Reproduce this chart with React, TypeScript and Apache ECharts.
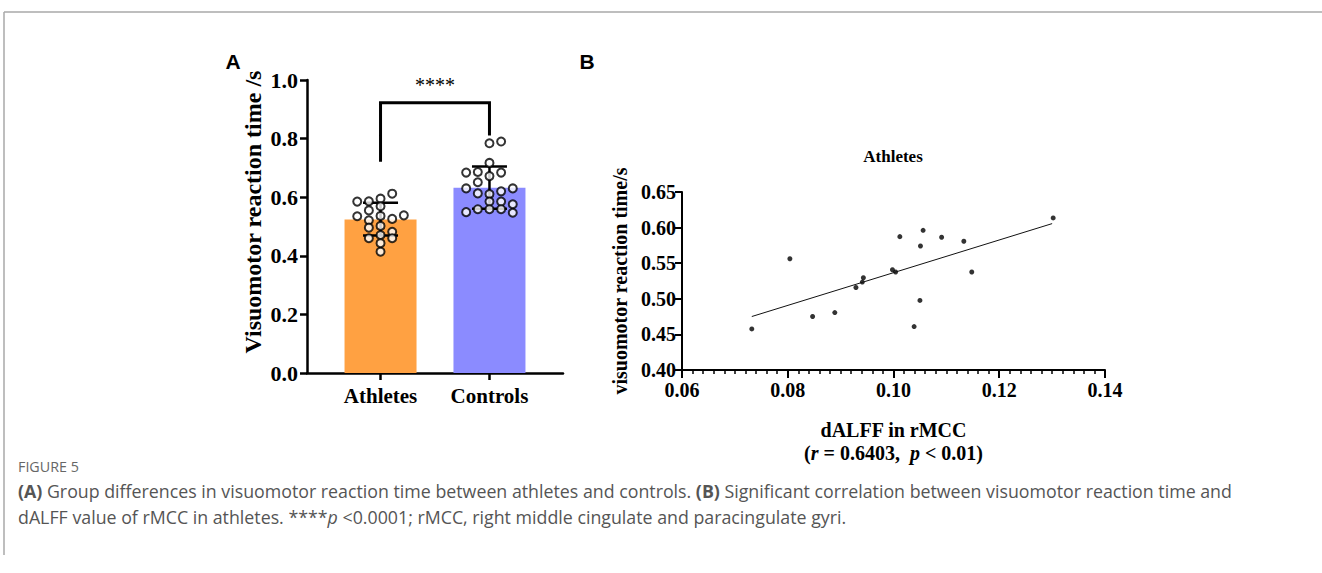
import React, { useEffect, useRef } from "react";
import * as echarts from "echarts";

// ---------- Panel A data ----------
const groups = ["Athletes", "Controls"];
const groupMeans = [0.524, 0.632];
const groupSdLow = [0.469, 0.561];
const groupSdHigh = [0.581, 0.705];
const barColors = ["#FFA142", "#8B8BFF"];

const athleteValues = [0.585, 0.535, 0.586, 0.555, 0.521, 0.496, 0.46, 0.595, 0.569, 0.536, 0.502, 0.471, 0.443, 0.414, 0.612, 0.526, 0.482, 0.46, 0.538];
const athleteSlots = [-2, -2, -1, -1, -1, -1, -1, 0, 0, 0, 0, 0, 0, 0, 1, 1, 1, 1, 2];
const controlValues = [0.784, 0.717, 0.672, 0.611, 0.585, 0.559, 0.79, 0.684, 0.62, 0.585, 0.559, 0.686, 0.651, 0.613, 0.559, 0.684, 0.63, 0.549, 0.63, 0.576, 0.547];
const controlSlots = [0, 0, 0, 0, 0, 0, 1, 1, 1, 1, 1, -1, -1, -1, -1, -2, -2, -2, 2, 2, 2];

const bracketFeet = [0.721, 0.811];
const bracketTop = 0.922;
const sigLabel = "****";

// ---------- Panel B data ----------
const dalff = [0.0732, 0.0804, 0.0847, 0.0889, 0.0929, 0.0941, 0.0943, 0.0998, 0.1004, 0.1012, 0.1039, 0.105, 0.1051, 0.1056, 0.1091, 0.1133, 0.1148, 0.1302];
const reactionTime = [0.4577, 0.5563, 0.4751, 0.4807, 0.5159, 0.5235, 0.5296, 0.5408, 0.5376, 0.5873, 0.461, 0.4977, 0.5742, 0.5962, 0.5864, 0.5808, 0.5376, 0.6136];
const fitX = [0.0732, 0.13];
const fitY = [0.4751, 0.6056];

const SERIF = "'Liberation Serif', 'Times New Roman', serif";
const SANS = "'Liberation Sans', Arial, sans-serif";
const CAP = "'Open Sans', 'Noto Sans', sans-serif";
const SLOT = 0.107;

export default function App() {
  const ref = useRef<HTMLDivElement>(null);
  useEffect(() => {
    const chart = echarts.init(ref.current!, null, { renderer: "svg" });
    const blackLine = (w: number) => ({ lineStyle: { color: "#000", width: w } });
    const option: any = {
      animation: false,
      backgroundColor: "#fff",
      grid: [
        { left: 307, top: 80, width: 256, height: 293 },
        { left: 682, top: 192, width: 423, height: 178 },
      ],
      xAxis: [
        {
          gridIndex: 0,
          type: "value",
          min: -0.675,
          max: 1.675,
          splitLine: { show: false },
          axisLine: { show: true, onZero: false, ...blackLine(2.5) },
          axisTick: { show: true, customValues: [0, 1], length: 7, ...blackLine(2.5) },
          axisLabel: {
            customValues: [0, 1],
            formatter: (v: number) => groups[Math.round(v)],
            fontFamily: SERIF,
            fontWeight: "bold",
            fontSize: 21,
            color: "#000",
            margin: 12,
          },
        },
        {
          gridIndex: 1,
          type: "value",
          min: 0.06,
          max: 0.14,
          interval: 0.02,
          splitLine: { show: false },
          axisLine: { show: true, onZero: false, ...blackLine(2) },
          axisTick: { show: true, length: 8, ...blackLine(2) },
          minorTick: { show: true, splitNumber: 10, length: 4, ...blackLine(1.5) },
          axisLabel: {
            formatter: (v: number) => v.toFixed(2),
            fontFamily: SERIF,
            fontWeight: "bold",
            fontSize: 20,
            color: "#000",
            margin: 10,
          },
          name: "{a|dALFF in rMCC}\n{b|(}{i|r}{b| = 0.6403,  }{i|p}{b| < 0.01)}",
          nameLocation: "middle",
          nameGap: 48,
          nameTextStyle: {
            color: "#000",
            rich: {
              a: { fontFamily: SERIF, fontWeight: "bold", fontSize: 20, lineHeight: 23, color: "#000" },
              b: { fontFamily: SERIF, fontWeight: "bold", fontSize: 20, lineHeight: 23, color: "#000" },
              i: { fontFamily: SERIF, fontWeight: "bold", fontStyle: "italic", fontSize: 20, lineHeight: 23, color: "#000" },
            },
          },
        },
      ],
      yAxis: [
        {
          gridIndex: 0,
          type: "value",
          min: 0,
          max: 1,
          interval: 0.2,
          splitLine: { show: false },
          axisLine: { show: true, onZero: false, ...blackLine(2.5) },
          axisTick: { show: true, length: 7, ...blackLine(2.5) },
          axisLabel: {
            formatter: (v: number) => v.toFixed(1),
            fontFamily: SERIF,
            fontWeight: "bold",
            fontSize: 22,
            color: "#000",
            margin: 9,
          },
        },
        {
          gridIndex: 1,
          type: "value",
          min: 0.4,
          max: 0.65,
          interval: 0.05,
          splitLine: { show: false },
          axisLine: { show: true, onZero: false, ...blackLine(2) },
          axisTick: { show: true, length: 7, ...blackLine(2) },
          axisLabel: {
            formatter: (v: number) => v.toFixed(2),
            fontFamily: SERIF,
            fontWeight: "bold",
            fontSize: 20,
            color: "#000",
            margin: 6,
          },
          name: "visuomotor reaction time/s",
          nameLocation: "middle",
          nameGap: 52,
          nameTextStyle: { fontFamily: SERIF, fontWeight: "bold", fontSize: 20, color: "#000" },
        },
      ],
      series: [
        {
          type: "bar",
          xAxisIndex: 0,
          yAxisIndex: 0,
          barWidth: 72,
          data: groups.map((g, i) => ({ value: [i, groupMeans[i]], itemStyle: { color: barColors[i] } })),
          z: 1,
        },
        {
          type: "custom",
          xAxisIndex: 0,
          yAxisIndex: 0,
          data: groups.map((g, i) => [i, groupSdLow[i], groupSdHigh[i]]),
          encode: { x: 0, y: [1, 2] },
          z: 3,
          renderItem: (params: any, api: any) => {
            const x = api.value(0);
            const lo = api.coord([x, api.value(1)]);
            const hi = api.coord([x, api.value(2)]);
            const half = 17.5;
            const style = { stroke: "#000", lineWidth: 2.5 };
            return {
              type: "group",
              children: [
                { type: "line", shape: { x1: lo[0], y1: lo[1], x2: hi[0], y2: hi[1] }, style },
                { type: "line", shape: { x1: hi[0] - half, y1: hi[1], x2: hi[0] + half, y2: hi[1] }, style },
                { type: "line", shape: { x1: lo[0] - half, y1: lo[1], x2: lo[0] + half, y2: lo[1] }, style },
              ],
            };
          },
        },
        {
          type: "scatter",
          xAxisIndex: 0,
          yAxisIndex: 0,
          symbol: "circle",
          symbolSize: 8,
          itemStyle: { color: "#fff", borderColor: "#000", borderWidth: 2 },
          data: athleteValues.map((v, i) => [0 + athleteSlots[i] * SLOT, v]),
          z: 4,
        },
        {
          type: "scatter",
          xAxisIndex: 0,
          yAxisIndex: 0,
          symbol: "circle",
          symbolSize: 8,
          itemStyle: { color: "#fff", borderColor: "#000", borderWidth: 2 },
          data: controlValues.map((v, i) => [1 + controlSlots[i] * SLOT, v]),
          z: 4,
        },
        {
          type: "custom",
          xAxisIndex: 0,
          yAxisIndex: 0,
          data: [[0, 1, bracketFeet[0], bracketFeet[1], bracketTop]],
          encode: { x: [0, 1], y: [2, 3, 4] },
          z: 2,
          renderItem: (params: any, api: any) => {
            const a = api.coord([api.value(0), api.value(2)]);
            const b = api.coord([api.value(0), api.value(4)]);
            const c = api.coord([api.value(1), api.value(4)]);
            const d = api.coord([api.value(1), api.value(3)]);
            const mid = api.coord([(api.value(0) + api.value(1)) / 2, api.value(4)]);
            return {
              type: "group",
              children: [
                {
                  type: "polyline",
                  shape: { points: [a, b, c, d] },
                  style: { stroke: "#000", lineWidth: 3, fill: "none", lineJoin: "miter" },
                },
                {
                  type: "text",
                  x: mid[0],
                  y: mid[1] - 8,
                  style: {
                    text: sigLabel,
                    fontFamily: SERIF,
                    fontSize: 20,
                    fill: "#000",
                    align: "center",
                    verticalAlign: "bottom",
                  },
                },
              ],
            };
          },
        },
        {
          type: "line",
          xAxisIndex: 1,
          yAxisIndex: 1,
          symbol: "none",
          lineStyle: { color: "#111", width: 1 },
          data: fitX.map((x, i) => [x, fitY[i]]),
        },
        {
          type: "scatter",
          xAxisIndex: 1,
          yAxisIndex: 1,
          symbolSize: 5,
          itemStyle: { color: "#000" },
          data: dalff.map((x, i) => [x, reactionTime[i]]),
        },
      ],
      graphic: [
        { type: "line", shape: { x1: 4, y1: 12, x2: 1322, y2: 12 }, style: { stroke: "#a8a8a8", lineWidth: 1.5 } },
        { type: "line", shape: { x1: 4, y1: 12, x2: 4, y2: 555 }, style: { stroke: "#a8a8a8", lineWidth: 1.5 } },
        {
          type: "text",
          x: 253,
          y: 212,
          rotation: Math.PI / 2,
          style: {
            text: "Visuomotor reaction time /s",
            fontFamily: SERIF,
            fontWeight: "bold",
            fontSize: 24,
            fill: "#000",
            align: "center",
            verticalAlign: "middle",
          },
        },
        {
          type: "text",
          x: 233,
          y: 61,
          style: { text: "A", fontFamily: SANS, fontWeight: "bold", fontSize: 21, fill: "#000", align: "center", verticalAlign: "middle" },
        },
        {
          type: "text",
          x: 587,
          y: 61,
          style: { text: "B", fontFamily: SANS, fontWeight: "bold", fontSize: 21, fill: "#000", align: "center", verticalAlign: "middle" },
        },
        {
          type: "text",
          x: 893,
          y: 156,
          style: { text: "Athletes", fontFamily: SERIF, fontWeight: "bold", fontSize: 17, fill: "#000", align: "center", verticalAlign: "middle" },
        },
        {
          type: "text",
          x: 18,
          y: 466,
          style: { text: "FIGURE 5", fontFamily: CAP, fontSize: 14.3, fill: "#666", align: "left", verticalAlign: "middle" },
        },
        {
          type: "text",
          x: 18,
          y: 491,
          style: {
            text: "{b|(A)} Group differences in visuomotor reaction time between athletes and controls. {b|(B)} Significant correlation between visuomotor reaction time and",
            fontFamily: CAP,
            fontSize: 17.8,
            fill: "#555",
            align: "left",
            verticalAlign: "middle",
            rich: { b: { fontFamily: CAP, fontSize: 17.8, fontWeight: "bold", fill: "#555" } },
          },
        },
        {
          type: "text",
          x: 18,
          y: 517,
          style: {
            text: "dALFF value of rMCC in athletes. ****{i|p} <0.0001; rMCC, right middle cingulate and paracingulate gyri.",
            fontFamily: CAP,
            fontSize: 17.8,
            fill: "#555",
            align: "left",
            verticalAlign: "middle",
            rich: { i: { fontFamily: CAP, fontSize: 17.8, fontStyle: "italic", fill: "#555" } },
          },
        },
      ],
    };
    chart.setOption(option);
    return () => chart.dispose();
  }, []);
  return (
    <div
      ref={ref}
      style={{ position: "fixed", left: 0, top: 0, width: 1322, height: 573, background: "#fff" }}
    />
  );
}
